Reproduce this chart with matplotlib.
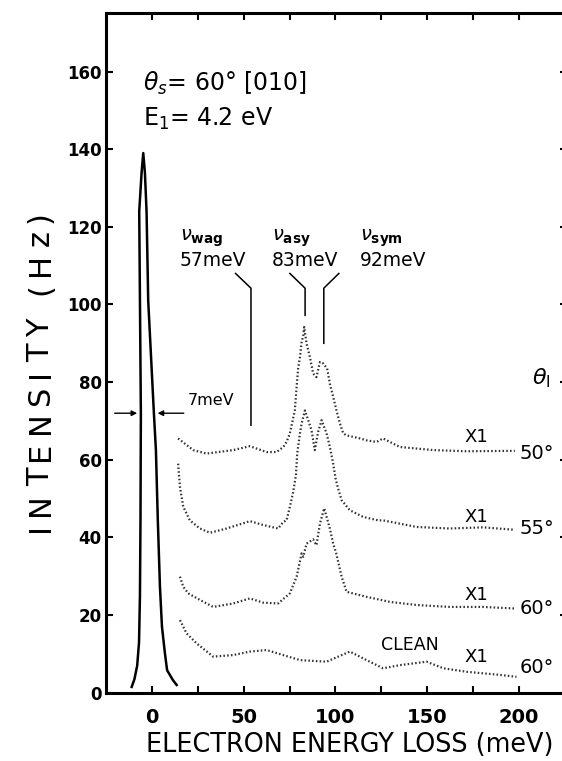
import matplotlib
matplotlib.use('Agg')
import matplotlib.pyplot as plt
from matplotlib.font_manager import FontProperties
import numpy as np

plt.rcParams['font.family'] = ['DejaVu Sans']
plt.rcParams['mathtext.fontset'] = 'dejavusans'

# --- Data (meV, Hz) ---
# elastic peak outline
peak_x = [-11, -9.5, -8, -7, -6.5, -6.2, -6.0, -6.5, -6.9, -5.6, -4.7,
          -3.8, -2.9, -2.0, 1.1, 2.2, 3.2, 4.4, 5.5, 7.1, 8.3, 11.4, 13.5]
peak_y = [1.5, 3.5, 7, 13, 25, 45, 72, 101, 124, 134, 139,
          134, 124, 101, 72, 62.5, 45, 27.3, 17, 10.2, 5.8, 3.3, 2.0]

# theta_I = 50 deg
s50_x = [14.3, 22.5, 29.8, 44.3, 53.4, 62.5, 68, 71.6, 73.4, 75.2, 77.9, 78.8,
         79.7, 80.7, 81.6, 82.5, 83, 84.3, 86.1, 87.9, 89.7, 91.6, 93.4, 95.5,
         97, 98.8, 100.6, 102.5, 104.3, 106.1, 113.4, 117, 122.5, 126, 135.1,
         153.3, 171.5, 197.8]
s50_y = [65.5, 62.5, 61.6, 62.5, 63.5, 62, 62, 63.3, 64.6, 66.8, 72.7, 78.3,
         83.5, 86.5, 90.3, 92, 94.2, 89.9, 86.5, 82.2, 81.3, 85.2, 84.8, 83.5,
         79.6, 76.2, 72.7, 69.3, 66.8, 66.3, 65.5, 65, 64.6, 65.5, 63.3,
         62.5, 62.2, 62.3]

# theta_I = 55 deg
s55_x = [14.3, 15.3, 17.1, 20.7, 26.2, 31.6, 40.7, 53.4, 60.7, 68.8, 71.6,
         73.4, 75.2, 77, 78.5, 79.2, 80.7, 81.6, 83.4, 85.2, 87, 88.8, 90.6,
         92.5, 95.2, 97, 98.8, 100.1, 101.5, 103.4, 107.9, 115.1, 123.3, 126,
         144.3, 162.4, 180.5, 196.9]
s55_y = [59, 53, 47.9, 44.4, 42.3, 41.2, 42.3, 44.2, 43.2, 42.3, 44,
         44.4, 47.9, 51.7, 56, 61.6, 66.8, 69.3, 72.7, 70.2, 67.6, 62.5, 67.2,
         70.2, 66.8, 63.3, 59, 55.2, 52.6, 49.6, 47, 45.3, 44.4, 44.4,
         42.7, 42.3, 42.6, 42]

# theta_I = 60 deg
s60_x = [15.3, 17.1, 19.8, 26.2, 33.4, 44.3, 53.4, 60.7, 68.8, 75.2, 78.9,
         81.6, 82.5, 84.3, 87.9, 89.7, 91.6, 93.9, 97, 98.8, 100.3, 103.4,
         106.1, 117, 129.7, 144.3, 162.4, 180.5, 197.8]
s60_y = [29.9, 27.3, 25.6, 23.9, 22.1, 23, 24.3, 23.2, 23, 25.6, 29.9,
         35.9, 35, 38.4, 39.5, 38, 43.6, 47.5, 42.3, 38.4, 36.2, 29.9,
         26, 24.7, 23.4, 22.6, 22.1, 22.1, 21.7]

# clean surface, 60 deg
clean_x = [15.3, 18.9, 24.4, 33.4, 44.3, 53.4, 62.5, 71.6, 80.7, 95.2, 107.9,
           117, 126, 135.1, 149.7, 158.8, 171.5, 189.6, 198.7]
clean_y = [18.7, 15.3, 12.7, 9.3, 9.7, 10.6, 11, 9.7, 8.4, 8, 10.6,
           8.4, 6.3, 7.1, 8, 6.3, 5.4, 4.6, 4.1]

spectra = [(s50_x, s50_y), (s55_x, s55_y), (s60_x, s60_y), (clean_x, clean_y)]
scale_labels = ['X1', 'X1', 'X1', 'X1']
scale_y = [65.8, 45.2, 25.1, 9.2]
angle_labels = ['50°', '55°', '60°', '60°']
angle_y = [61.7, 42.4, 21.8, 6.6]

# mode markers: label, x of label, x of line, bottom of line
mode_names = [r'$\nu_{\mathbf{wag}}$', r'$\nu_{\mathbf{asy}}$', r'$\nu_{\mathbf{sym}}$']
mode_energies = ['57meV', '83meV', '92meV']
mode_label_x = [15.3, 65.4, 113.4]
mode_start_x = [45.6, 75.2, 101.9]
mode_line_x = [54.0, 83.5, 93.7]
mode_line_bottom = [68.9, 97.2, 90.0]

W, H = 562, 761

# --- Plot ---
fig = plt.figure(figsize=(W / 100, H / 100), dpi=100)
ax = fig.add_axes([106 / W, 0.0897, 251 * 1.835 / W, 0.8928])
ax.set_xlim(-25, 226)
ax.set_ylim(0, 175)

ax.plot(peak_x, peak_y, color='black', lw=1.8, solid_joinstyle='round')

for sx, sy in spectra:
    ax.plot(sx, sy, color='0.2', lw=1.6, linestyle=(0, (0.7, 1.0)))

for lab, yy in zip(scale_labels, scale_y):
    ax.text(177, yy, lab, ha='center', va='center', fontsize=13)
for lab, yy in zip(angle_labels, angle_y):
    ax.text(200.5, yy, lab, ha='left', va='center', fontsize=14, clip_on=False)
ax.text(124.8, 12.3, 'CLEAN', ha='left', va='center', fontsize=12.5)
ax.text(207, 81, r'$\theta_{\rm I}$', ha='left', va='center', fontsize=16, clip_on=False)

for name, en, lx, sx0, lnx, lb in zip(mode_names, mode_energies, mode_label_x,
                                      mode_start_x, mode_line_x, mode_line_bottom):
    ax.text(lx, 117, name, ha='left', va='center', fontsize=14)
    ax.text(lx, 111.3, en, ha='left', va='center', fontsize=13.5)
    ax.plot([sx0, lnx, lnx], [108, 104.2, lb], color='black', lw=1.1)

ax.text(-4.9, 156.9, r'$\theta_s$= 60° [010]', ha='left', va='center', fontsize=17)
ax.text(-4.9, 147.9, r'E$_{\rm 1}$= 4.2 eV', ha='left', va='center', fontsize=17)

# resolution arrows
ax.annotate('', xy=(-6.5, 72), xytext=(-21.8, 72),
            arrowprops=dict(arrowstyle='-|>', color='black', lw=1.0, mutation_scale=8))
ax.annotate('', xy=(1.6, 72), xytext=(18.9, 72),
            arrowprops=dict(arrowstyle='-|>', color='black', lw=1.0, mutation_scale=8))
ax.text(19.6, 75.3, '7meV', ha='left', va='center', fontsize=11.5)

# axes styling (right frame lies past the cropped edge of the original)
for sp in ax.spines.values():
    sp.set_linewidth(2.2)
ax.spines['right'].set_visible(False)
ax.set_xticks([0, 50, 100, 150, 200])
ax.set_xticks([25, 75, 125, 175], minor=True)
ax.set_yticks(np.arange(0, 161, 20))
ax.tick_params(which='both', direction='in', length=5, width=1.5,
               top=True, right=True)
ax.tick_params(axis='x', which='major', pad=11, labelsize=14)
ax.tick_params(axis='y', pad=3, labelsize=12)
for t in ax.get_xticklabels() + ax.get_yticklabels():
    t.set_fontweight('bold')

# y label with wide letter spacing, as in the original
renderer = fig.canvas.get_renderer()
ylab = 'INTENSITY (Hz)'
ylab_size = 22
gap = 7.0
fp = FontProperties(family='DejaVu Sans', size=ylab_size)
pos = H - 532
for ch in ylab:
    fig.text(49 / W, pos / H, ch, rotation=90, rotation_mode='anchor',
             ha='left', va='baseline', fontsize=ylab_size)
    w = renderer.get_text_width_height_descent(ch, fp, ismath=False)[0]
    pos += w + gap

fig.text(146 / W, 0.0118, 'ELECTRON ENERGY LOSS (meV)', ha='left', va='baseline',
         fontsize=18.4)

fig.savefig('out.png', dpi=100)
